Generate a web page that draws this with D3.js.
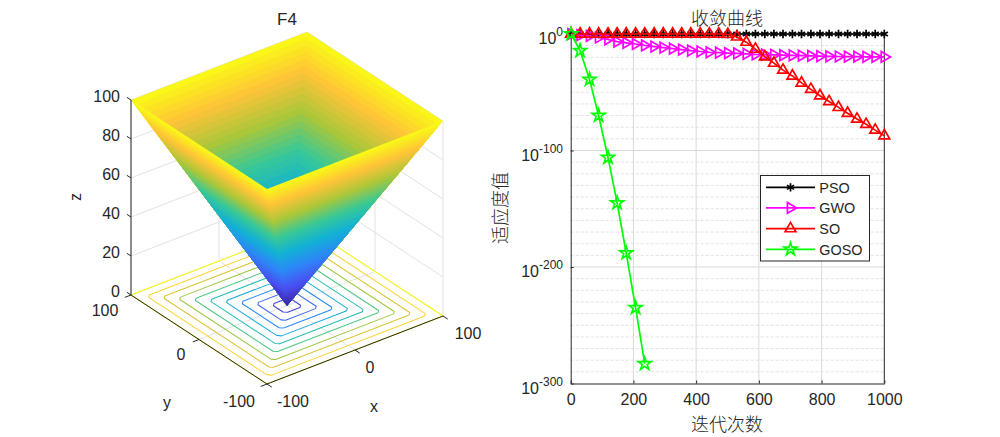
<!DOCTYPE html>
<html><head><meta charset="utf-8">
<script src="https://cdn.jsdelivr.net/npm/d3@7"></script>
<style>
html,body{margin:0;padding:0;background:#fff;overflow:hidden}
svg{display:block}
text{font-family:"Liberation Sans",Arial,sans-serif;fill:#262626}
.cjk{font-family:"Noto Sans CJK SC",sans-serif;font-weight:300}
</style></head><body>
<svg id="c" width="1000" height="437"></svg>
<script>
// ---------- data: left panel (F4 surface, z = max(|x|,|y|))
const surfaceLevels = d3.range(0, 101, 2.5);
const contourLevels = [10,20,30,40,50,60,70,80,90,100];
const zTicks = [0,20,40,60,80,100];
const xyTicks = [-100,0,100];
const parulaStops = ["#3e26a8","#4852f4","#2d87f7","#12b1d6","#37c897","#abc739","#fec338","#f9fb15"];

// ---------- data: right panel (log10 of fitness at each marker)
const iterations = [1,30,60,89,119,148,177,207,236,266,295,325,354,383,413,442,472,501,530,560,589,619,648,677,707,736,766,795,824,854,883,913,942,971,1000];
const psoLog = [0,0,0,0,0,0,0,0,0,0,0,0,0,0,0,0,0,0,0,0,0,0,0,0,0,0,0,0,0,0,0,0,0,0,0];
const gwoLog = [0,-1,-1.6,-3,-4.6,-6.6,-7.6,-8.6,-9.8,-10.8,-11.7,-12.6,-13.4,-14.2,-15,-15.7,-16,-16.4,-16.7,-17.1,-17.5,-17.7,-17.9,-18.2,-18.4,-18.6,-18.8,-19,-19.2,-19.3,-19.5,-19.5,-19.6,-19.6,-19.7];
const soLog = [0,0,0,0,0,0,0,0,0,0,0,0,0,0,0,0,0,-0.3,-2.5,-7,-13,-19.5,-25,-31,-36,-42,-47.5,-53,-58,-63,-68,-73,-77.5,-82.5,-87.3];
const gosoLog = [0,-14.3,-39,-70,-106,-145,-188,-235,-283];
const xTickVals = [0,200,400,600,800,1000];
const yDecades = [0,-100,-200,-300];
const seriesNames = ["PSO","GWO","SO","GOSO"];
const seriesColors = ["#000000","#ff00ff","#ff0000","#00ff00"];

const svg = d3.select("#c");
const ink = "#262626";
const gridC = "#e2e2e2";

// ---------- 3D axes
const gx = d3.scaleLinear([-100,100],[-88,88]);
const gxy = d3.scaleLinear([-100,100],[34,-34]);
const hy = d3.scaleLinear([-100,100],[-68,68]);
const hyy = d3.scaleLinear([-100,100],[44.5,-44.5]);
const zS = d3.scaleLinear([0,100],[0,-195]);
const P = (x,y,z)=>[287+gx(x)-hy(y), 305.5+gxy(x)+hyy(y)+zS(z)];
const color = d3.scaleLinear(parulaStops.map((_,i)=>i*100/(parulaStops.length-1)), parulaStops);
const line3 = pts => "M"+pts.map(p=>P(...p).map(v=>v.toFixed(2)).join(",")).join("L");
const L = svg.append("g");

// grid on floor and back walls
const grid = L.append("g").attr("fill","none").attr("stroke",gridC).attr("stroke-width",1);
grid.selectAll(".zl").data(zTicks).join("path")
  .attr("d",z=>line3([[-100,100,z],[100,100,z],[100,-100,z]]));
xyTicks.forEach(v=>{
  grid.append("path").attr("d",line3([[v,-100,0],[v,100,0],[v,100,100]]));
  grid.append("path").attr("d",line3([[-100,v,0],[100,v,0],[100,v,100]]));
});

// contours
L.append("g").attr("fill","none").attr("stroke-width",1.05).selectAll("path").data(contourLevels).join("path")
  .attr("stroke",d=>color(d))
  .attr("stroke-linejoin","round")
  .attr("d",r=>{
    const c = r===100?0:3;
    return line3([[-r+c,-r,0],[r-c,-r,0],[r,-r+c,0],[r,r-c,0],[r-c,r,0],[-r+c,r,0],[-r,r-c,0],[-r,-r+c,0]])+"Z";
  });

// surface: nested polygons painted from the top level down, so bands have no seams
const bands = d3.pairs(surfaceLevels).reverse(); // [low, high], top band first
const S = L.append("g");
const nested = {
  back: r=>line3([[-r,r,r],[r,r,r],[r,-r,r],[0,0,0]])+"Z",
  front:r=>line3([[-r,r,r],[-r,-r,r],[r,-r,r],[0,0,0]])+"Z"
};
["back","front"].forEach(k=>{
  bands.forEach(([a,b])=>{
    const c = color((a+b)/2);
    S.append("path").attr("d",nested[k](b)).attr("fill",c);
  });
});

// axis lines
const ax = L.append("g").attr("fill","none").attr("stroke",ink).attr("stroke-width",1);
ax.append("path").attr("d",line3([[-100,100,0],[-100,100,100]]));
ax.append("path").attr("d",line3([[-100,100,0],[-100,-100,0],[100,-100,0]]));
zTicks.forEach(z=>ax.append("path").attr("d",line3([[-100,100,z],[-100,106,z]])));
xyTicks.forEach(v=>{
  ax.append("path").attr("d",line3([[v,-100,0],[v,-107,0]]));
  ax.append("path").attr("d",line3([[-100,v,0],[-107,v,0]]));
});

// 3D tick labels
const t3 = (x,y,s,anchor,fs=16,rot)=>{
  const e = L.append("text").attr("x",x).attr("y",y).attr("text-anchor",anchor)
    .attr("font-size",fs).attr("dominant-baseline","central").text(s);
  if(rot) e.attr("transform",`rotate(${rot} ${x} ${y})`);
  return e;
};
zTicks.forEach(z=>{const p=P(-100,100,z); t3(120,p[1]-3.5,String(z),"end");});
xyTicks.forEach(v=>{
  const px=P(v,-100,0), py=P(-100,v,0);
  t3(px[0]+(v===-100?26:v===0?15:25),px[1]+17,String(v),"middle");
  t3(py[0]+(v===-100?-28:v===0?-18:-26),py[1]+(v===-100?17:15),String(v),"middle");
});
t3(374,406,"x","middle");
t3(167,402,"y","middle");
t3(75,197,"z","middle",16,-90);
t3(287,19,"F4","middle",17);

// ---------- 2D log panel
const x = d3.scaleLinear([0,1000],[570.7,884.3]);
const y = d3.scaleLog([1e-300,1],[383.5,34]);
const R = svg.append("g");
const minorExp = d3.range(-290,0,10).filter(e=>e%100!==0);
R.append("g").selectAll("line").data(minorExp).join("line")
  .attr("x1",x(0)).attr("x2",x(1000)).attr("y1",e=>y(Math.pow(10,e))).attr("y2",e=>y(Math.pow(10,e)))
  .attr("stroke","#dadada").attr("stroke-width",0.8).attr("stroke-dasharray","3 2");
R.append("g").selectAll("line").data(yDecades.slice(1,3)).join("line")
  .attr("x1",x(0)).attr("x2",x(1000)).attr("y1",e=>y(Math.pow(10,e))).attr("y2",e=>y(Math.pow(10,e)))
  .attr("stroke","#d9d9d9");
R.append("g").selectAll("line").data(xTickVals.slice(1,5)).join("line")
  .attr("x1",d=>x(d)).attr("x2",d=>x(d)).attr("y1",34).attr("y2",383.5)
  .attr("stroke","#d9d9d9");

const xAxis = d3.axisBottom(x).tickValues(xTickVals).tickSize(-3).tickPadding(10).tickSizeOuter(0).tickFormat(d3.format("d"));
const gX = R.append("g").attr("transform","translate(0,383.5)").call(xAxis);
gX.selectAll("text").attr("font-size",16).attr("font-family",null).style("fill",ink);
gX.selectAll("line,path").attr("stroke",ink);
const yAxis = d3.axisLeft(y).tickValues(yDecades.map(e=>Math.pow(10,e))).tickSize(-3).tickSizeOuter(0).tickFormat("");
const gY = R.append("g").attr("transform","translate(570.7,0)").call(yAxis);
gY.selectAll("line,path").attr("stroke",ink);
const labs = R.append("g").selectAll("text").data(yDecades).join("text")
  .attr("text-anchor","end").attr("x",563).attr("y",e=>y(Math.pow(10,e))+10).attr("font-size",16);
labs.append("tspan").text("10");
labs.append("tspan").attr("dy",-7.7).attr("font-size",12).text(e=>String(e));
R.append("line").attr("x1",884.3).attr("x2",884.3).attr("y1",34).attr("y2",383.5).attr("stroke",ink);
R.append("line").attr("x1",570.7).attr("x2",884.3).attr("y1",34).attr("y2",34).attr("stroke",ink);

const lineGen = d3.line().x(d=>x(d[0])).y(d=>y(Math.pow(10,d[1])));
const star5 = d3.symbol().type(d3.symbolStar).size(52)();
const tri = d3.symbol().type(d3.symbolTriangle).size(50)();
const aster = d3.symbol().type(d3.symbolAsterisk).size(48)();
const markers = [
  {d:aster,rot:0},{d:tri,rot:90},{d:tri,rot:0},{d:star5,rot:0}
];
const allLogs = [psoLog,gwoLog,soLog,gosoLog];
allLogs.forEach((vals,i)=>{
  const pts = vals.map((v,k)=>[iterations[k],v]);
  const g = R.append("g");
  g.append("path").attr("d",lineGen(pts)).attr("fill","none").attr("stroke",seriesColors[i]).attr("stroke-width",1.7);
  g.selectAll("path.m").data(pts).join("path").attr("class","m")
    .attr("d",markers[i].d).attr("fill","none").attr("stroke",seriesColors[i]).attr("stroke-width",1.7)
    .attr("transform",d=>`translate(${x(d[0])},${y(Math.pow(10,d[1]))}) rotate(${markers[i].rot})`);
});

// legend
const lg = R.append("g");
lg.append("rect").attr("x",760.5).attr("y",175.5).attr("width",109).attr("height",85.5)
  .attr("fill","#fff").attr("stroke",ink);
const rowY = d3.scaleLinear([0,3],[187.3,249.3]);
seriesNames.forEach((n,i)=>{
  lg.append("line").attr("x1",766).attr("x2",815).attr("y1",rowY(i)).attr("y2",rowY(i))
    .attr("stroke",seriesColors[i]).attr("stroke-width",1.7);
  lg.append("path").attr("d",markers[i].d).attr("fill","none").attr("stroke",seriesColors[i]).attr("stroke-width",1.7)
    .attr("transform",`translate(790.5,${rowY(i)}) rotate(${markers[i].rot})`);
  lg.append("text").attr("x",819.3).attr("y",rowY(i)+5.3).attr("font-size",14.4).text(n);
});

// CJK labels
R.append("text").attr("class","cjk").attr("x",727).attr("y",25).attr("text-anchor","middle").attr("font-size",18).text("收敛曲线");
R.append("text").attr("class","cjk").attr("x",727).attr("y",431).attr("text-anchor","middle").attr("font-size",18).text("迭代次数");
R.append("text").attr("class","cjk").attr("transform","translate(507,208) rotate(-90)").attr("text-anchor","middle").attr("font-size",18).text("适应度值");
</script>
</body></html>
